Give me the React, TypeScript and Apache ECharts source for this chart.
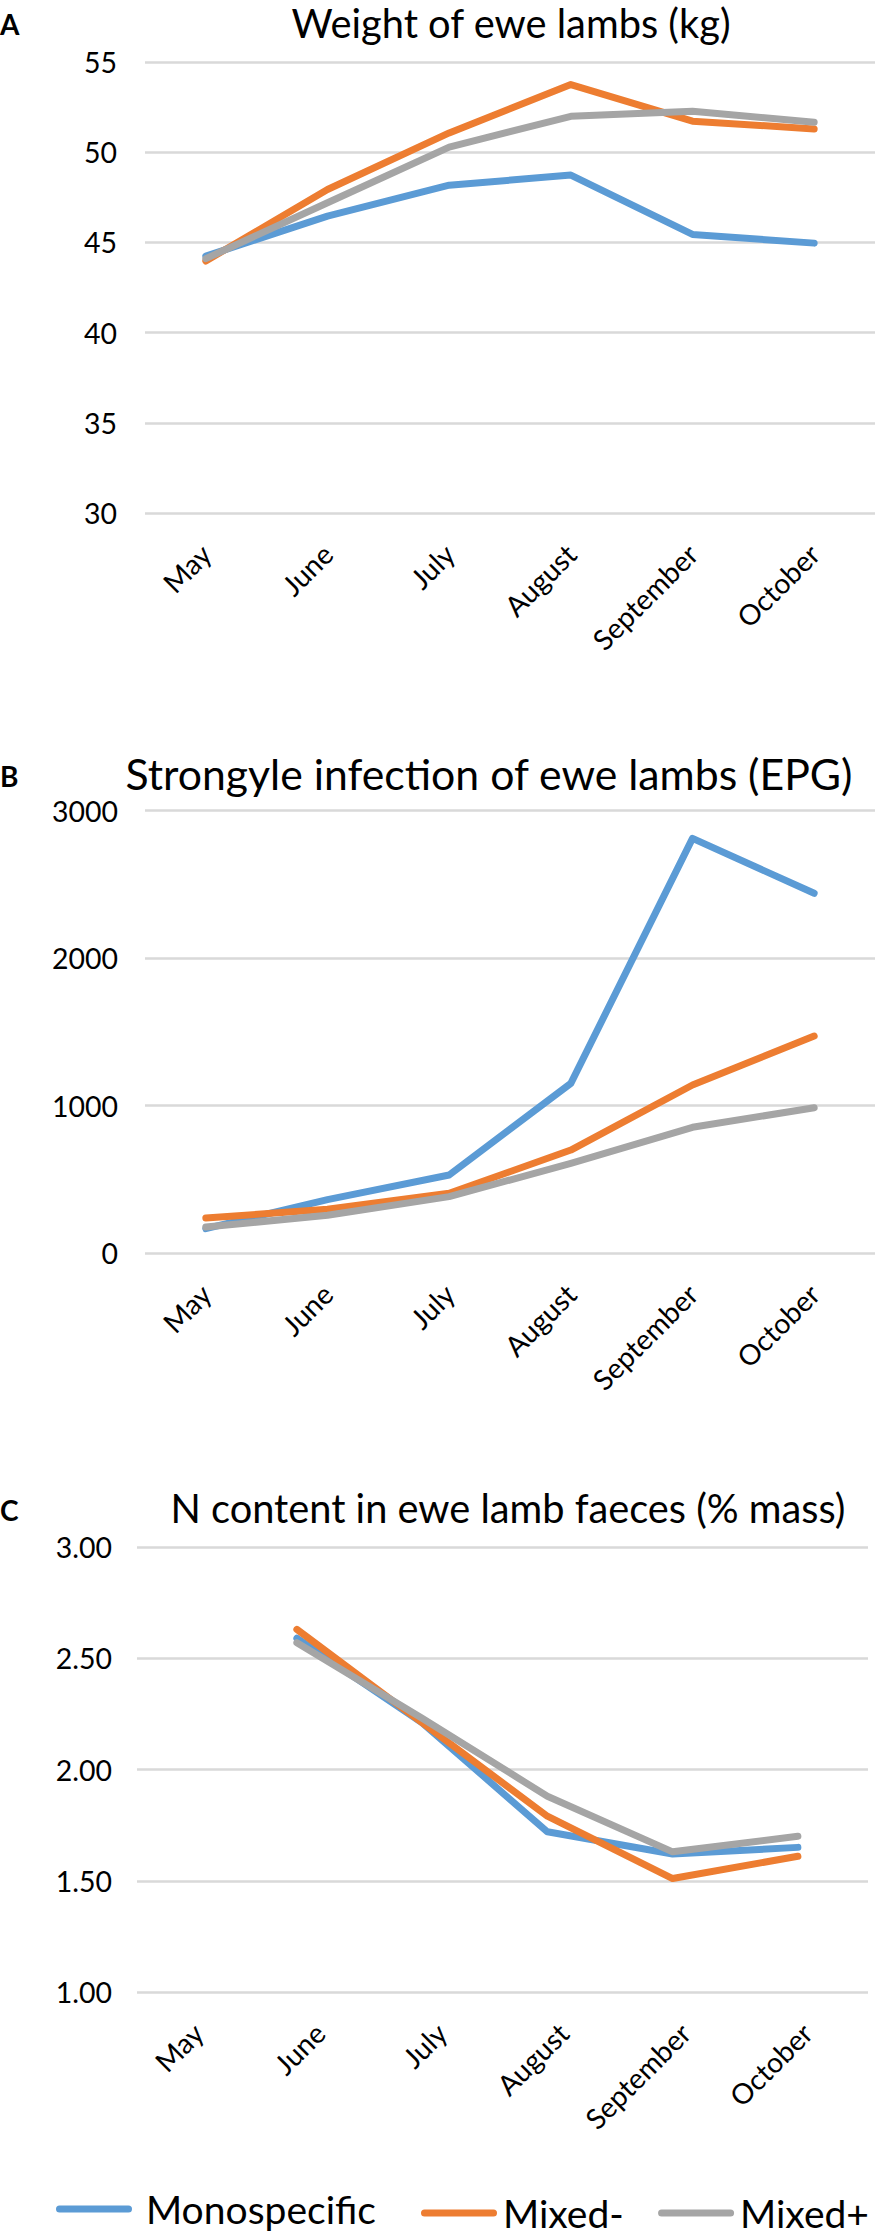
import React, { useEffect, useRef } from "react";
import * as echarts from "echarts";

const months = ["May", "June", "July", "August", "September", "October"];
const seriesNames = ["Monospecific", "Mixed-", "Mixed+"];
const colors = ["#5B9BD5", "#ED7D31", "#A5A5A5"];

const panelLetters = ["A", "B", "C"];
const panelTitles = [
  "Weight of ewe lambs (kg)",
  "Strongyle infection of ewe lambs (EPG)",
  "N content in ewe lamb faeces (% mass)",
];

// Panel A: weight (kg)
const weightMono = [44.24, 46.46, 48.17, 48.73, 45.44, 44.96];
const weightMixedMinus = [43.97, 47.93, 51.07, 53.75, 51.72, 51.29];
const weightMixedPlus = [44.1, 47.2, 50.28, 51.99, 52.27, 51.66];

// Panel B: strongyle EPG
const epgMono = [165, 362, 529, 1150, 2811, 2439];
const epgMixedMinus = [237, 296, 405, 698, 1139, 1471];
const epgMixedPlus = [176, 256, 382, 608, 852, 985];

// Panel C: N content (% mass)
const nMono = [null, 2.59, 2.21, 1.72, 1.62, 1.65];
const nMixedMinus = [null, 2.63, 2.21, 1.79, 1.51, 1.61];
const nMixedPlus = [null, 2.57, 2.23, 1.88, 1.63, 1.7];

const FONT = "Lato, 'Noto Sans', 'DejaVu Sans', sans-serif";

function measure(text: string, size: number, weight = "normal"): number {
  const ctx = document.createElement("canvas").getContext("2d");
  if (!ctx) return text.length * size * 0.5;
  ctx.font = `${weight} ${size}px ${FONT}`;
  return ctx.measureText(text).width || 1;
}

function fitSize(text: string, target: number, weight = "normal"): number {
  return (100 * target) / measure(text, 100, weight);
}

export default function App() {
  const ref = useRef<HTMLDivElement>(null);

  useEffect(() => {
    document.body.style.margin = "0";
    if (!ref.current) return;
    const chart = echarts.init(ref.current, undefined, { renderer: "svg" });

    const yLabelSize = fitSize("2000", 66);
    const xLabelSize = fitSize("September", 135);
    const legendSize = fitSize("Monospecific", 230);
    const titleSizes = [
      fitSize(panelTitles[0], 440),
      fitSize(panelTitles[1], 728),
      fitSize(panelTitles[2], 675),
    ];
    const titlePos = [
      [511, 22],
      [489, 773],
      [508, 1507],
    ];
    const letterY = [24, 776, 1510];

    const gridColor = "#D9D9D9";
    const xAxisBase = (gridIndex: number) => ({
      gridIndex,
      type: "category",
      data: months,
      boundaryGap: true,
      axisLine: { show: false },
      axisTick: { show: false },
      splitLine: { show: false },
      axisLabel: {
        rotate: 45,
        margin: 36,
        fontSize: xLabelSize,
        fontFamily: FONT,
        color: "#000",
        interval: 0,
      },
    });
    const yAxisBase = (
      gridIndex: number,
      min: number,
      max: number,
      interval: number,
      margin: number,
      digits: number
    ) => ({
      gridIndex,
      type: "value",
      min,
      max,
      interval,
      axisLine: { show: false },
      axisTick: { show: false },
      splitLine: { show: true, lineStyle: { color: gridColor, width: 2.5 } },
      axisLabel: {
        margin,
        fontSize: yLabelSize,
        fontFamily: FONT,
        color: "#000",
        formatter: (v: number) => v.toFixed(digits),
      },
    });

    const lineSeries = (
      name: string,
      color: string,
      data: (number | null)[],
      xi: number,
      yi: number
    ) => ({
      name,
      type: "line",
      xAxisIndex: xi,
      yAxisIndex: yi,
      data,
      showSymbol: false,
      symbol: "none",
      smooth: false,
      connectNulls: false,
      lineStyle: { color, width: 7, cap: "round", join: "round" },
      itemStyle: { color },
      emphasis: { disabled: true },
    });

    const capsule =
      "path://M3.5,0L72.5,0A3.5,3.5,0,0,1,72.5,7L3.5,7A3.5,3.5,0,0,1,3.5,0Z";
    const legendItem = (
      name: string,
      left: number,
      iconCenter: number,
      shift: number,
      gap: number
    ) => ({
      data: [name],
      left,
      top: iconCenter - (legendSize + 2 * shift) / 2,
      orient: "horizontal",
      padding: 0,
      icon: capsule,
      itemWidth: 76,
      itemHeight: 7,
      selectedMode: false,
      textStyle: {
        fontSize: legendSize,
        fontFamily: FONT,
        color: "#000",
        padding: [0, 0, 2 * shift, gap],
      },
    });

    // keep the last legend entry fully inside the right edge
    const lastWidth = 76 + 5 + 1 + measure(seriesNames[2], legendSize);
    const lastLeft = Math.min(667, 869 - lastWidth);

    const graphics: any[] = [];
    panelTitles.forEach((t, i) => {
      graphics.push({
        type: "text",
        x: titlePos[i][0],
        y: titlePos[i][1],
        silent: true,
        style: {
          text: t,
          fontSize: titleSizes[i],
          fontFamily: FONT,
          fill: "#000",
          align: "center",
          verticalAlign: "middle",
        },
      });
      graphics.push({
        type: "text",
        x: 0,
        y: letterY[i],
        silent: true,
        style: {
          text: panelLetters[i],
          fontSize: 28,
          fontWeight: "bold",
          fontFamily: FONT,
          fill: "#000",
          align: "left",
          verticalAlign: "middle",
        },
      });
    });

    chart.setOption({
      animation: false,
      backgroundColor: "#ffffff",
      grid: [
        { left: 145, top: 62, width: 730, height: 451 },
        { left: 145, top: 810.5, width: 730, height: 442.5 },
        { left: 137, top: 1547, width: 731, height: 445 },
        { left: 109, top: 1547, width: 751.5, height: 445 },
      ],
      xAxis: [
        xAxisBase(0),
        xAxisBase(1),
        xAxisBase(2),
        { gridIndex: 3, type: "category", data: months, show: false, boundaryGap: true },
      ],
      yAxis: [
        yAxisBase(0, 30, 55, 5, 28, 0),
        yAxisBase(1, 0, 3000, 1000, 27, 0),
        yAxisBase(2, 1, 3, 0.5, 25, 2),
        { gridIndex: 3, type: "value", min: 1, max: 3, show: false },
      ],
      legend: [
        legendItem(seriesNames[0], 56, 2212, 3, 9),
        legendItem(seriesNames[1], 421, 2223, 10, 1),
        legendItem(seriesNames[2], lastLeft, 2223, 10, 1),
      ],
      graphic: graphics,
      series: [
        lineSeries(seriesNames[0], colors[0], weightMono, 0, 0),
        lineSeries(seriesNames[1], colors[1], weightMixedMinus, 0, 0),
        lineSeries(seriesNames[2], colors[2], weightMixedPlus, 0, 0),
        lineSeries(seriesNames[0], colors[0], epgMono, 1, 1),
        lineSeries(seriesNames[1], colors[1], epgMixedMinus, 1, 1),
        lineSeries(seriesNames[2], colors[2], epgMixedPlus, 1, 1),
        lineSeries(seriesNames[0], colors[0], nMono, 3, 3),
        lineSeries(seriesNames[1], colors[1], nMixedMinus, 3, 3),
        lineSeries(seriesNames[2], colors[2], nMixedPlus, 3, 3),
      ],
    });

    return () => {
      chart.dispose();
    };
  }, []);

  return <div ref={ref} style={{ width: 875, height: 2237 }} />;
}
